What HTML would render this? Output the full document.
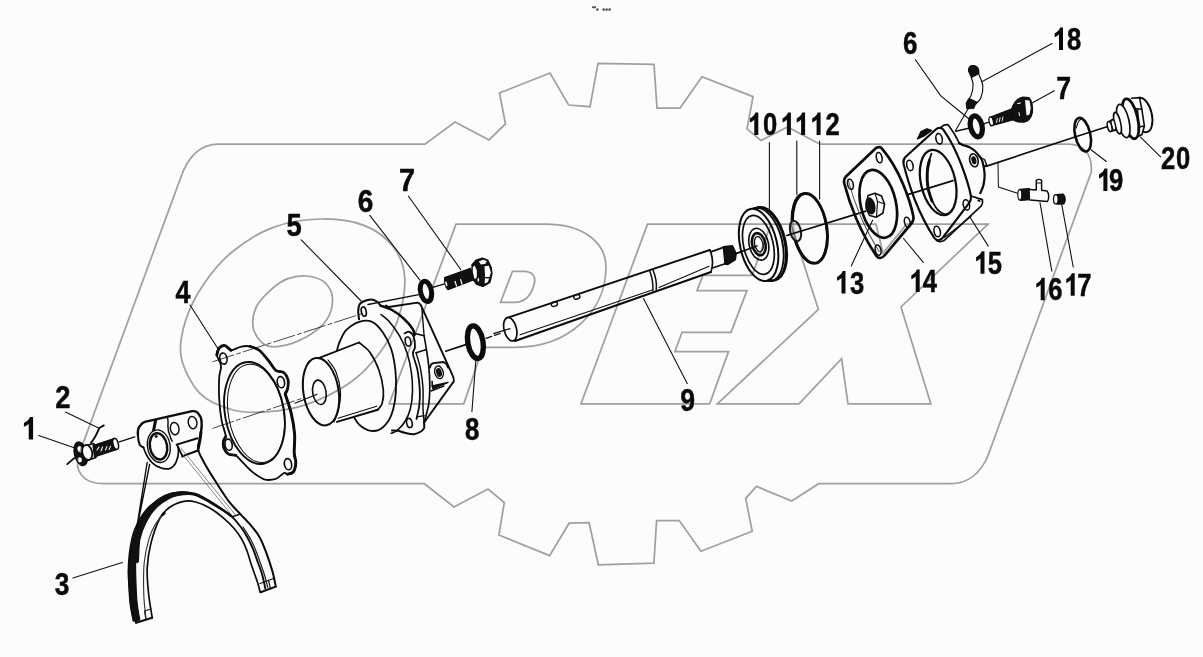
<!DOCTYPE html>
<html><head><meta charset="utf-8"><title>Exploded view</title>
<style>html,body{margin:0;padding:0;background:#fcfcfa;}svg{display:block;filter:blur(0.45px)}</style></head>
<body><svg width="1203" height="657" viewBox="0 0 1203 657">
<rect width="1203" height="657" fill="#fcfcfa"/>
<g id="parts" fill="none" stroke="#0c0c0c" stroke-width="1.7" stroke-linecap="round" stroke-linejoin="round">
<g id="p1">
<path d="M103.8,425.4 L99.3,428 C97.5,432 95.5,437.5 90.9,442.8" stroke-width="1.92"/>
<line x1="74.2" y1="458.1" x2="67.3" y2="464.1" stroke-width="1.92"/>
<path d="M84,446 L94,443.5 L96,457.5 L86,461 Z" fill="#fcfcfa" stroke-width="1.36"/>
<ellipse cx="80.8" cy="453.8" rx="6.3" ry="12" transform="rotate(-14 80.8 453.8)" fill="#111" stroke-width="1.36"/>
<ellipse cx="79.8" cy="449.3" rx="2.3" ry="3.2" transform="rotate(-14 79.8 449.3)" fill="#fcfcfa" stroke="none"/>
<ellipse cx="79.6" cy="459.8" rx="2.2" ry="2.6" transform="rotate(-14 79.6 459.8)" fill="#fcfcfa" stroke="none"/>
<ellipse cx="87.2" cy="452.4" rx="4.9" ry="7.6" transform="rotate(-14 87.2 452.4)" fill="#fcfcfa" stroke-width="1.81"/>
<path d="M93,445.6 L114.6,438.2 L116.2,449.6 L94.4,457 Z" fill="#111" stroke-width="1.13"/>
<path d="M97,450 l2,-3 m2,4 l1.5,-4 m3,3 l1.5,-3.5 m2,3 l1.5,-3" stroke="#fcfcfa" stroke-width="1.02"/>
<ellipse cx="115.6" cy="443.9" rx="2.6" ry="5.6" transform="rotate(-14 115.6 443.9)" fill="#fcfcfa" stroke-width="1.47"/>
<line x1="119.2" y1="441.8" x2="134.8" y2="436.8" stroke-width="1.24"/>
</g>
<g id="p3">
<path d="M176.6,444.6 L197.6,438.2" stroke-width="2.03"/>
<path d="M182.4,456.3 L198.6,450.2" stroke-width="2.03"/>
<path d="M178.3,449.2 L233,516.8 M180.8,448 L236,515.6" stroke="#777" stroke-width="0.90"/>
<path d="M177.8,446.4 L182.6,456.6" stroke-width="1.81"/>
<path d="M137.9,434.9 C137.6,430 138.5,427.5 139.8,426.2 C141,424 143,422.4 144.8,421.8 L192.2,411.2 C195,410.8 197.3,412 198.4,413.7 C200.5,416 201.5,419 201.5,421.2 C202,425 201.6,429 200.9,432.4" stroke-width="2.37"/>
<path d="M137.9,434.9 C138,439 138.8,442.5 139.8,444.9 C141,446.5 142,447 143.5,447.4" stroke-width="2.03"/>
<path d="M154.8,420.6 L152.9,430.6 M156.3,420.4 L154.4,429.6" stroke-width="1.69"/>
<path d="M167.2,417.6 C168.4,419 168.2,422 167.9,426.2 C168,430 168.6,432.5 169.7,434.9 C170.3,437.5 171,439.5 172.2,441.2" stroke-width="1.47"/>
<path d="M143.5,447.4 C145,452 147,456.5 149.8,459.9 C152.5,463.5 156,466 159.8,467.4 C163,468.8 166.5,469.3 169.7,468.6 C172.5,467.5 174.5,465.5 176,462.4 C177.6,459 178.6,455 178.5,451.1 C178.4,448.5 178,446.5 177.2,444.9" stroke-width="1.69"/>
<ellipse cx="158.8" cy="446.2" rx="11.3" ry="16.4" transform="rotate(-10 158.8 446.2)" stroke-width="1.36"/>
<ellipse cx="158.5" cy="446.4" rx="8.6" ry="13.3" transform="rotate(-10 158.5 446.4)" stroke-width="2.49"/>
<ellipse cx="156.2" cy="436.4" rx="1.1" ry="1.1" fill="#111" stroke-width="0.90"/>
<ellipse cx="174.7" cy="428.6" rx="4.3" ry="6.2" transform="rotate(-10 174.7 428.6)" stroke-width="1.47"/>
<ellipse cx="192.6" cy="422.6" rx="4.3" ry="6.2" transform="rotate(-10 192.6 422.6)" stroke-width="1.47"/>
<path d="M147.2,462.4 L135.6,535 M149.6,464.5 L137,528" stroke-width="1.36"/>
</g>
<g id="p3arc">
<path d="M136.0,622.8 C135.2,619.0 132.2,609.0 131.0,600.3 C129.8,591.6 128.3,580.8 128.5,570.4 C128.7,560.0 130.4,546.4 132.3,537.9 C134.2,529.4 136.9,524.7 139.8,519.5 C142.7,514.3 146.3,509.8 149.7,506.5 C153.1,503.2 156.4,502.1 160.0,500.0 C163.6,497.9 167.1,495.3 171.0,494.0 C174.9,492.7 179.4,492.0 183.7,492.1 C187.9,492.2 192.2,493.4 196.5,494.9 C200.8,496.4 205.0,498.9 209.3,501.3 C213.6,503.7 218.4,507.1 222.1,509.5 C225.8,511.9 228.1,513.0 231.2,515.9 C234.3,518.8 238.0,523.2 240.8,527.0 C243.6,530.8 245.9,534.6 248.0,538.5 C250.1,542.4 252.1,546.7 253.6,550.3 C255.1,553.9 255.6,556.0 257.0,560.0 C258.4,564.0 260.6,569.2 262.0,574.0 C263.4,578.8 264.8,586.1 265.3,588.5" stroke-width="1.92"/>
<path d="M133.2,621.1 C132.6,617.9 130.5,609.0 129.8,601.7 C129.1,594.4 128.7,585.4 128.8,577.3 C128.9,569.2 129.3,560.3 130.3,553.0 C131.3,545.7 133.0,539.6 135.0,533.5 C137.0,527.4 139.5,521.5 142.5,516.5 C145.5,511.5 149.2,506.8 153.0,503.3 C156.8,499.8 160.8,497.2 165.0,495.3 C169.2,493.4 173.2,492.3 178.3,492.0 C183.4,491.7 190.1,492.0 195.3,493.4 C200.5,494.8 204.8,498.0 209.3,500.6 C213.8,503.2 218.4,506.3 222.1,508.8 C225.8,511.3 229.7,514.3 231.2,515.4 L231.2,516.8 C229.7,515.7 225.8,512.8 222.1,510.4 C218.4,508.0 213.8,504.9 209.3,502.4 C204.8,499.9 199.6,496.7 195.3,495.4 C191.0,494.1 187.8,494.3 183.5,494.8 C179.2,495.3 174.4,496.0 169.8,498.2 C165.2,500.4 160.0,503.9 156.1,507.8 C152.2,511.7 149.2,516.1 146.5,521.4 C143.8,526.7 141.3,532.9 139.9,539.5 C138.5,546.1 139.0,557.4 138.3,561.2 C137.6,565.0 136.2,559.8 135.8,562.5 C135.4,565.2 135.6,570.8 135.8,577.3 C136.0,583.8 136.3,594.6 137.0,601.7 C137.7,608.8 139.3,616.9 139.8,619.9 Z" fill="#111" stroke-width="1.13"/>
<path d="M152.2,617.8 C151.6,613.6 149.3,601.1 148.5,592.8 C147.7,584.5 146.8,576.2 147.2,567.9 C147.6,559.6 148.9,551.1 151.0,542.9 C153.1,534.7 156.7,524.4 159.7,518.5 C162.7,512.6 165.1,510.6 169.1,507.7 C173.1,504.8 179.1,502.2 183.7,501.3 C188.3,500.4 192.2,501.1 196.5,502.2 C200.8,503.3 205.0,505.3 209.3,507.7 C213.6,510.1 218.1,513.4 222.1,516.8 C226.1,520.1 230.3,524.1 233.5,527.8 C236.7,531.4 239.3,535.0 241.5,538.7 C243.7,542.5 245.1,545.8 246.8,550.3 C248.5,554.8 250.0,560.7 251.8,566.0 C253.6,571.3 256.0,577.6 257.4,582.0 C258.8,586.4 259.7,590.5 260.2,592.2" stroke-width="1.69"/>
<path d="M200.9,432.4 C200.8,433.4 200.5,435.5 200.0,438.3 C199.5,441.1 197.4,445.2 198.0,449.2 C198.6,453.1 201.0,456.8 203.8,462.0 C206.6,467.2 210.5,473.6 214.8,480.3 C219.1,487.0 225.1,496.6 229.4,502.2 C233.7,507.8 236.8,510.2 240.4,514.1 C244.1,518.1 248.1,522.1 251.3,525.9 C254.5,529.7 257.1,532.6 259.5,536.9 C261.9,541.2 263.8,546.0 265.9,551.7 C268.0,557.4 270.6,565.1 272.3,570.9 C274.0,576.7 275.2,584.0 275.8,586.6" stroke-width="2.03"/>
<path d="M200.9,432.4 C200.8,433.4 200.6,435.7 200.2,438.3 C199.8,440.9 198.7,446.4 198.4,448.0" stroke-width="2.94"/>
<path d="M232.1,516.8 L240.4,514.1" stroke-width="1.47"/>
<path d="M136,622.8 L152.2,617.8" stroke-width="2.03"/>
<path d="M260.6,592.2 L275.8,586.6" stroke-width="2.03"/>
<path d="M144.5,611 L151.3,609 M145.8,619.2 L144.5,611" stroke-width="1.13"/>
<path d="M260,583.5 L273.5,578.5 M270.5,588.8 L268.5,580" stroke-width="1.13"/>
<path d="M146.0,618.0 C145.6,614.2 144.1,604.2 143.8,595.0 C143.5,585.8 143.3,572.1 144.2,562.7 C145.1,553.3 147.2,544.9 149.1,538.4 C151.0,531.9 153.3,527.9 155.5,524.0 C157.7,520.1 161.2,516.8 162.4,515.3" stroke-width="1.13" stroke="#333"/>
<path d="M162.4,515.3 l2.2,-2.2" stroke-width="2.26"/>
<path d="M243.0,527.0 C244.2,529.0 248.3,535.0 250.5,539.0 C252.7,543.0 254.4,547.2 256.0,551.0 C257.6,554.8 258.6,558.0 260.0,562.0 C261.4,566.0 263.2,570.8 264.5,575.0 C265.8,579.2 267.2,585.4 267.8,587.5" stroke-width="1.24" stroke="#222"/>
</g>
<g id="p4">
<path d="M212.8,361.7 L361.6,313.8" stroke-width="0.90" stroke="#333" stroke-dasharray="22 3 4 3"/>
<path d="M212.8,428.3 L309,396" stroke-width="0.90" stroke="#333" stroke-dasharray="22 3 4 3"/>
<path d="M216.8,355.0 C216.5,352.1 217.8,349.6 219.2,348.0 C220.6,346.4 223.1,345.2 225.0,345.6 C226.9,346.0 228.3,350.1 230.9,350.3 C233.5,350.5 237.2,347.5 240.4,346.8 C243.6,346.1 246.7,345.7 249.8,346.3 C252.9,346.9 256.1,347.9 259.2,350.3 C262.3,352.7 265.9,357.5 268.7,360.9 C271.5,364.2 273.2,368.4 275.8,370.4 C278.4,372.4 282.0,371.1 284.0,372.7 C286.0,374.3 287.4,377.1 288.0,379.8 C288.6,382.6 288.0,386.8 287.5,389.2 C287.0,391.6 284.6,390.1 285.2,394.0 C285.8,397.9 289.5,406.1 291.1,412.8 C292.7,419.5 294.1,427.3 294.6,434.0 C295.1,440.7 294.0,448.2 294.2,452.9 C294.4,457.6 295.9,459.2 295.8,462.4 C295.7,465.5 294.8,469.8 293.4,471.8 C292.0,473.8 289.1,474.0 287.5,474.2 C285.9,474.4 285.9,472.2 284.0,473.0 C282.1,473.8 279.1,477.8 275.8,478.9 C272.5,479.9 267.9,480.5 264.0,479.3 C260.1,478.1 255.8,474.6 252.2,471.8 C248.6,469.0 245.4,465.1 242.7,462.4 C239.9,459.6 238.0,456.7 235.7,455.3 C233.3,453.9 230.6,455.3 228.6,454.1 C226.6,452.9 224.8,450.4 223.9,448.2 C223.0,446.0 223.1,443.1 223.4,441.1 C223.7,439.1 226.1,439.9 225.8,436.4 C225.5,432.9 222.6,426.2 221.5,419.9 C220.4,413.6 219.6,405.8 219.2,398.7 C218.8,391.6 218.9,383.0 219.2,377.5 C219.5,372.0 221.4,369.4 221.0,365.7 C220.6,361.9 217.1,357.9 216.8,355.0Z" stroke-width="1.81"/>
<path d="M249.8,346.3 C251.4,347.0 256.1,347.9 259.2,350.3 C262.3,352.7 265.9,357.5 268.7,360.9 C271.5,364.2 273.2,368.4 275.8,370.4 C278.4,372.4 282.0,371.1 284.0,372.7 C286.0,374.3 287.4,377.1 288.0,379.8 C288.6,382.6 288.0,386.8 287.5,389.2 C287.0,391.6 285.6,393.2 285.2,394.0" stroke-width="2.71"/>
<path d="M285.2,394.0 C286.2,397.1 289.5,406.1 291.1,412.8 C292.7,419.5 294.1,427.3 294.6,434.0 C295.1,440.7 294.0,448.2 294.2,452.9 C294.4,457.6 295.9,459.2 295.8,462.4 C295.7,465.5 294.8,469.8 293.4,471.8 C292.0,473.8 288.5,473.8 287.5,474.2" stroke-width="2.94"/>
<path d="M216.8,355.0 C217.2,353.8 217.8,349.6 219.2,348.0 C220.6,346.4 223.1,345.2 225.0,345.6 C226.9,346.0 229.9,349.5 230.9,350.3" stroke-width="2.94"/>
<path d="M235.7,455.3 C234.5,455.1 230.6,455.3 228.6,454.1 C226.6,452.9 224.8,450.4 223.9,448.2 C223.0,446.0 223.1,443.1 223.4,441.1 C223.7,439.1 225.4,437.2 225.8,436.4" stroke-width="2.71"/>
<ellipse cx="254.5" cy="413" rx="29.5" ry="51.5" transform="rotate(-10 254.5 413)" stroke-width="1.92"/>
<ellipse cx="256" cy="413.3" rx="27.6" ry="49.6" transform="rotate(-10 256 413.3)" stroke-width="1.02"/>
<ellipse cx="223.4" cy="358.6" rx="3.6" ry="5.6" transform="rotate(-10 223.4 358.6)" stroke-width="1.69"/>
<ellipse cx="280.9" cy="382.2" rx="3.6" ry="5.6" transform="rotate(-10 280.9 382.2)" stroke-width="1.69"/>
<ellipse cx="228.6" cy="444.7" rx="3.6" ry="5.6" transform="rotate(-10 228.6 444.7)" stroke-width="1.69"/>
<ellipse cx="288" cy="464.2" rx="3.6" ry="5.6" transform="rotate(-10 288 464.2)" stroke-width="1.69"/>
</g>
<g id="p5">
<path d="M368,304.5 L418.8,294.7" stroke-width="1.36"/>
<path d="M386,305.5 L388.7,307 L417.3,302.6 C419.5,303 421,304.5 421.8,307.1 L452.7,375.7 C453.8,378 454,379.5 453.8,381.4 L424.1,422.5" stroke-width="1.92"/>
<path d="M415,333.4 L424.1,335.7 L426.4,349.4 L416.1,352.8" stroke-width="1.58"/>
<path d="M421.8,307.5 L424.1,335.7" stroke-width="1.36"/>
<path d="M426.4,349.4 C426.8,352.1 428.1,359.3 428.7,365.4 C429.3,371.5 429.8,379.4 429.8,385.9 C429.8,392.4 429.6,398.1 428.7,404.2 C427.8,410.3 424.9,419.4 424.1,422.5" stroke-width="1.69"/>
<path d="M429.8,367.7 C430.5,365 431.5,363.5 433.2,363.1 L443.5,362 C446,363 447.5,365 448.1,367.7" stroke-width="1.81"/>
<ellipse cx="439" cy="372.3" rx="4.2" ry="6.4" transform="rotate(-15 439 372.3)" stroke-width="1.36"/>
<ellipse cx="439" cy="372.5" rx="2.2" ry="3.9" transform="rotate(-15 439 372.5)" fill="#111" stroke-width="1.13"/>
<path d="M432.1,385.9 L448.1,382.5 L433,389 Z" fill="#111" stroke-width="1.36"/>
<path d="M431,391 L444,386" stroke-width="1.36"/>
<path d="M432.1,381.4 L432.3,386" stroke-width="1.58"/>
<path d="M404.5,333.5 C405.3,333.2 407.8,331.2 409.3,331.8 C410.9,332.4 412.9,334.4 413.8,337.0 C414.8,339.6 415.1,344.3 415.0,347.1 C414.9,349.9 412.6,350.1 413.0,354.0 C413.4,357.9 416.4,364.2 417.5,370.2 C418.6,376.2 419.5,384.0 419.8,390.0 C420.1,396.0 419.8,401.2 419.2,406.0 C418.6,410.8 416.9,416.8 416.5,419.0" stroke-width="1.81"/>
<path d="M416.1,352.8 C416.9,355.6 419.6,364.0 420.7,369.9 C421.8,375.8 422.6,381.7 423.0,388.2 C423.4,394.7 422.8,403.1 423.0,408.8 C423.2,414.5 423.9,420.2 424.1,422.5" stroke-width="1.47"/>
<path d="M380.5,305.6 C382.4,306.3 388.1,307.9 392.0,310.0 C395.9,312.1 400.2,315.3 403.6,318.5 C407.1,321.7 410.9,326.2 412.7,329.0 C414.5,331.8 414.2,334.0 414.5,335.0" stroke-width="2.49"/>
<path d="M359.0,319.3 C358.9,317.9 358.1,313.5 358.2,311.0 C358.3,308.5 358.6,306.1 359.5,304.5 C360.4,302.9 361.4,302.4 363.4,301.5 C365.3,300.6 368.9,299.4 371.2,299.4 C373.5,299.4 375.4,300.5 377.0,301.5 C378.6,302.5 379.9,304.9 380.5,305.6" stroke-width="2.03"/>
<ellipse cx="363.8" cy="311.6" rx="2.4" ry="4.7" transform="rotate(-12 363.8 311.6)" stroke-width="1.69"/>
<ellipse cx="408" cy="341.6" rx="2.7" ry="4.6" transform="rotate(-12 408 341.6)" stroke-width="1.58"/>
<path d="M392.0,430.5 C393.0,430.6 395.9,430.4 398.0,430.8 C400.1,431.2 402.1,432.2 404.7,432.8 C407.3,433.4 411.1,434.4 413.8,434.2 C416.5,434.0 419.3,432.5 421.0,431.5 C422.7,430.5 423.6,429.5 424.1,428.0 C424.6,426.5 424.1,423.4 424.1,422.5" stroke-width="2.03"/>
<path d="M417.3,416.8 L424.1,415.6" stroke-width="1.36"/>
<ellipse cx="409.4" cy="423" rx="2.7" ry="4.7" transform="rotate(-12 409.4 423)" stroke-width="1.58"/>
<path d="M381.0,314.5 C382.3,315.6 385.9,317.7 389.0,321.3 C392.1,324.9 396.7,330.9 399.7,336.2 C402.7,341.5 405.2,347.2 407.2,353.3 C409.1,359.4 410.5,366.1 411.4,372.5 C412.3,378.9 412.7,385.7 412.5,391.7 C412.3,397.7 411.6,403.7 410.4,408.7 C409.1,413.7 407.1,417.9 405.0,421.5 C402.9,425.1 399.9,428.1 397.6,430.1 C395.3,432.1 392.3,432.8 391.2,433.3" stroke-width="1.58"/>
<path d="M337.0,350.2 C337.5,348.7 338.4,344.4 340.0,341.0 C341.6,337.6 343.2,333.1 346.4,329.9 C349.6,326.7 354.9,323.1 359.2,321.8 C363.5,320.5 368.1,320.1 372.0,321.8 C375.9,323.5 379.4,327.5 382.6,332.0 C385.8,336.5 389.1,342.6 391.2,349.0 C393.3,355.4 394.6,363.3 395.4,370.4 C396.2,377.5 396.2,385.3 395.9,391.7 C395.5,398.1 394.6,403.7 393.3,408.7 C392.0,413.7 390.5,417.9 388.0,421.5 C385.5,425.1 381.8,428.7 378.4,430.1 C375.0,431.5 370.9,431.0 367.7,430.1 C364.5,429.2 361.5,426.8 359.2,424.7 C356.9,422.6 354.9,418.5 354.0,417.3" stroke-width="1.81"/>
<path d="M319.3,357.9 L359,342.5 C366,346 373,357 378.9,370 C383,380 384,392 382.2,403.2 C381,406.5 379.5,408.5 377.8,409.8 L337,421.9 Z" fill="#fcfcfa" stroke="none"/>
<path d="M319.3,357.9 L359,342.5" stroke-width="1.81"/>
<path d="M337,421.9 L377.8,409.8" stroke-width="2.03"/>
<path d="M338,418.3 L376.7,406.3" stroke-width="1.02"/>
<path d="M359.0,342.5 C360.8,344.1 366.7,347.8 370.0,352.4 C373.3,357.0 376.7,363.8 378.9,370.0 C381.1,376.2 382.8,384.4 383.3,389.9 C383.9,395.4 383.1,399.9 382.2,403.2 C381.3,406.5 378.5,408.7 377.8,409.8" stroke-width="1.69"/>
<ellipse cx="321" cy="391.7" rx="17.6" ry="34" transform="rotate(-9 321 391.7)" fill="#fcfcfa" stroke-width="2.03"/>
<path d="M328.0,360.0 C329.3,362.0 333.9,366.7 336.0,372.0 C338.1,377.3 340.1,385.7 340.5,392.0 C340.9,398.3 339.6,405.0 338.5,410.0 C337.4,415.0 334.8,420.0 334.0,422.0" stroke-width="1.13"/>
<ellipse cx="319.4" cy="392.3" rx="6.7" ry="12.3" transform="rotate(-9 319.4 392.3)" stroke-width="1.58"/>
<path d="M295,403.2 L317,394.3" stroke-width="1.02"/>
</g>
<g id="p678">
<ellipse cx="426" cy="291.4" rx="5.5" ry="10.3" transform="rotate(-12 426 291.4)" stroke-width="4.97"/>
<path d="M433.5,287.2 L444.5,283.9" stroke-width="1.36"/>
<path d="M444.6,277.6 L470.6,268.2 L474.7,279.5 L448,289.7 C445.5,288 444,282 444.6,277.6 Z" fill="#111" stroke-width="1.13"/>
<path d="M455,281.5 l1.6,4.6 M460.6,279.6 l1.4,4.4" stroke="#fcfcfa" stroke-width="1.24"/>
<ellipse cx="446.3" cy="283.7" rx="0.9" ry="2.6" transform="rotate(-14 446.3 283.7)" fill="#fcfcfa" stroke="none"/>
<path d="M472,265.1 L476.1,260.3 L482.3,258.2 L487.7,260.3 L491.2,267.8 L491.8,274 L489.8,282.2 L482.9,286.3 L476.8,284.2 L473.5,279.8 Z" fill="#111" stroke-width="1.58"/>
<polygon points="472.7,267.3 474.7,265.6 476.8,270.5 476.8,277.2 474.6,279.2 472.9,272.6" fill="#fcfcfa" stroke="none"/>
<polygon points="478.8,261.4 482.9,259.8 486.8,261.1 485.5,263.8 480.9,264.5" fill="#fcfcfa" stroke="none"/>
<polygon points="484.5,266.3 488.9,265.7 490.9,272.6 489.5,277.1 485.1,276.9" fill="#fcfcfa" stroke="none"/>
<polygon points="485.1,278.3 489.2,278.6 487.5,282.6 484.5,283.6" fill="#fcfcfa" stroke="none"/>
<polygon points="477.3,278.9 478.8,277.8 479.3,280.1 478,282.4" fill="#fcfcfa" stroke="none"/>
<ellipse cx="475.4" cy="342.2" rx="7.6" ry="16.5" transform="rotate(-10 475.4 342.2)" stroke-width="5.42"/>
<path d="M445.7,351.3 L466.5,344.4" stroke-width="1.69"/>
<path d="M486,338.4 L500.4,333.4" stroke-width="1.24" stroke-dasharray="6 3"/>
</g>
<g id="p9">
<path d="M493.7,333.6 L510,328.6" stroke-width="1.13"/>
<path d="M508.7,317.3 L709.8,250" stroke-width="1.92"/>
<path d="M515,341 L711,272" stroke-width="2.15"/>
<path d="M520,334.8 L652.2,289.9 M659,287.5 L709,266.2" stroke-width="1.02"/>
<ellipse cx="510.3" cy="329.2" rx="6.2" ry="12" transform="rotate(-14 510.3 329.2)" stroke-width="1.69"/>
<path d="M649.7,271 C652,277 653.5,284 652.8,291 M653,270 C655.5,276 657,283 656.2,290" stroke-width="1.47"/>
<ellipse cx="554.4" cy="304.1" rx="3.2" ry="2.2" transform="rotate(-18 554.4 304.1)" stroke-width="1.36"/>
<ellipse cx="576.8" cy="296.9" rx="3.2" ry="2.2" transform="rotate(-18 576.8 296.9)" stroke-width="1.36"/>
<path d="M709.8,250 C712.5,256 713.5,264 711,272" stroke-width="1.69"/>
<path d="M711.5,251.6 L723.5,247.4 M713.2,267.8 L725,263.8" stroke-width="1.69"/>
<path d="M723.3,246.8 L732.5,245.8 L736.2,253.6 L735.4,259.6 L727.5,264.6 L725,264 Z" fill="#111" stroke-width="1.36"/>
<path d="M735.8,253.7 L759.5,245" stroke-width="1.47"/>
</g>
<g id="p10">
<ellipse cx="766.6" cy="243.8" rx="19" ry="37.4" transform="rotate(-13 766.6 243.8)" stroke-width="2.26"/>
<ellipse cx="765.3" cy="244.1" rx="19.3" ry="37.5" transform="rotate(-13 765.3 244.1)" stroke-width="1.92"/>
<ellipse cx="763.2" cy="244.4" rx="19.2" ry="37.4" transform="rotate(-13 763.2 244.4)" stroke-width="1.92"/>
<ellipse cx="758.6" cy="244.9" rx="18.4" ry="36.8" transform="rotate(-13 758.6 244.9)" fill="#fcfcfa" stroke-width="2.03"/>
<ellipse cx="758.4" cy="244.9" rx="14.8" ry="30" transform="rotate(-13 758.4 244.9)" stroke-width="1.69"/>
<ellipse cx="758.8" cy="244.2" rx="9.6" ry="16.2" transform="rotate(-13 758.8 244.2)" stroke-width="1.58"/>
<ellipse cx="758.8" cy="244.2" rx="6.6" ry="11.2" transform="rotate(-13 758.8 244.2)" stroke-width="2.60"/>
<ellipse cx="758.8" cy="244.2" rx="4.1" ry="7.8" transform="rotate(-13 758.8 244.2)" stroke-width="1.36"/>
<path d="M736,253.5 L757,246" stroke-width="1.47"/>
</g>
<g id="p1112">
<ellipse cx="808.9" cy="228" rx="17" ry="35.6" transform="rotate(-9 808.9 228)" stroke-width="1.13"/>
<ellipse cx="810" cy="228.4" rx="16.8" ry="35.2" transform="rotate(-9 810 228.4)" stroke-width="2.94"/>
<path d="M786.8,235.5 L865.9,211.1" stroke-width="1.69"/>
<ellipse cx="795.5" cy="231" rx="5.3" ry="10.4" transform="rotate(-13 795.5 231)" stroke-width="2.03" stroke="#1a1a1a" fill="#e6e6e4" fill-opacity="0.8"/>
<path d="M789,234.8 L802,230.8" stroke-width="1.47"/>
</g>
<g id="p1314">
<path d="M875.5,148.5 C877.5,146.6 880.5,146.6 882.2,148.8 C890,158 898,172 903,184 C908,196 911.5,207 913.3,216 C913.8,219 913.5,221 911.8,223 L884.5,255.5 C882,258.5 878.5,259 876.5,256 C869,245 862,232 856,218 C851,206 847,194 844.3,183.5 C843.6,180.5 844,178.5 846,176.5 Z" stroke-width="2.71"/>
<path d="M848,179 C851,191 855,203 860,215 C865.5,228 872,240 879.2,251.5" stroke-width="1.02" stroke="#555"/>
<ellipse cx="879.2" cy="157.6" rx="2.8" ry="5.2" transform="rotate(-13 879.2 157.6)" stroke-width="1.58"/>
<ellipse cx="850.4" cy="184.3" rx="2.8" ry="5.2" transform="rotate(-13 850.4 184.3)" stroke-width="1.58"/>
<ellipse cx="878.1" cy="250.1" rx="2.8" ry="5.2" transform="rotate(-13 878.1 250.1)" stroke-width="1.58"/>
<ellipse cx="907.3" cy="222.3" rx="2.8" ry="5.2" transform="rotate(-13 907.3 222.3)" stroke-width="1.58"/>
<ellipse cx="878.3" cy="203.8" rx="17.6" ry="34.6" transform="rotate(-13 878.3 203.8)" stroke-width="2.71"/>
<path d="M868,195.5 L875,193.2 L881.5,196 L884.5,204 L883,213 L876.5,217.2 L869.5,215.5 L866,208 Z" fill="#fcfcfa" stroke-width="1.58"/>
<path d="M875,193.2 L877.5,201.5 L876.5,217.2 M877.5,201.5 L884.5,204" stroke-width="1.13"/>
<ellipse cx="870.4" cy="205.9" rx="4.2" ry="8" transform="rotate(-13 870.4 205.9)" fill="#111" stroke-width="1.36"/>
</g>
<g id="p15">
<path d="M959.0,143.0 C959.7,143.4 961.4,144.5 963.2,145.2 C965.0,145.9 967.6,146.3 969.6,147.3 C971.6,148.3 973.4,149.6 975.0,151.0 C976.6,152.4 978.0,154.1 979.2,155.8 C980.4,157.5 981.5,158.2 982.4,161.2 C983.3,164.2 984.4,170.0 984.6,174.0 C984.8,178.0 984.2,181.8 983.5,185.0 C982.8,188.2 980.8,191.8 980.3,193.2" stroke-width="2.26"/>
<ellipse cx="973.9" cy="160.3" rx="4.2" ry="6.6" transform="rotate(-13 973.9 160.3)" stroke-width="1.58"/>
<ellipse cx="973.9" cy="160.3" rx="1.9" ry="3.6" transform="rotate(-13 973.9 160.3)" fill="#111" stroke-width="1.13"/>
<path d="M980.5,157.5 L984.5,159.5 L986.5,164.5 L983.5,167.5" stroke-width="1.36"/>
<path d="M917.5,139 L921,131.5 L927,128.8 L931.5,130.5 L924,136 Z" fill="#111" stroke-width="1.36"/>
<path d="M940.8,127.5 C943,125 946,124.2 948.3,124.9 C953,131 957,138 959.5,143.5" stroke-width="1.69"/>
<path d="M970.9,196 L982.4,199.6 C983,202 982.6,204 981.3,205.9 L944,240.6 C941.5,242 939,242 936.6,240.5" stroke-width="1.69"/>
<path d="M971.2,216.3 L944.5,237.5" stroke-width="1.02"/>
<path d="M978.2,200.4 l1.6,0.6" stroke-width="1.81"/>
<path d="M936,129.2 C938,127.3 941.5,127.3 943.3,129.6 C950,139 956.5,152 961.5,165 C966,177 969.5,188 970.9,196 C971.3,198.5 971,200.5 969.6,202.3 L942.5,238 C940,240.8 936.5,241 934.5,238.2 C927,227 920,213 914.5,199 C910,187 906,174 903.6,164 C903,161 903.5,159 905.4,157 Z" stroke-width="2.15"/>
<ellipse cx="939.1" cy="138.8" rx="3.1" ry="5.3" transform="rotate(-13 939.1 138.8)" stroke-width="1.58"/>
<ellipse cx="909.9" cy="165.4" rx="3.1" ry="5.3" transform="rotate(-13 909.9 165.4)" stroke-width="1.58"/>
<ellipse cx="937.2" cy="231.5" rx="3.1" ry="5.3" transform="rotate(-13 937.2 231.5)" stroke-width="1.58"/>
<ellipse cx="966.4" cy="204.9" rx="3.1" ry="5.3" transform="rotate(-13 966.4 204.9)" stroke-width="1.58"/>
<ellipse cx="938.2" cy="182.5" rx="17.2" ry="33.2" transform="rotate(-13 938.2 182.5)" stroke-width="2.26"/>
<path d="M931.5,153.5 C930.9,155.6 928.4,161.5 927.6,166.0 C926.9,170.5 926.6,175.6 927.0,180.4 C927.4,185.2 928.6,190.6 930.0,195.0 C931.4,199.4 933.7,204.1 935.5,207.0 C937.3,209.9 939.1,211.2 941.0,212.5 C942.9,213.8 945.8,214.4 946.8,214.8" stroke-width="1.69"/>
<path d="M929.5,160.0 C929.1,162.0 927.5,167.3 927.3,172.0 C927.0,176.7 927.2,183.2 928.0,188.0 C928.8,192.8 931.3,198.8 932.0,201.0" stroke-width="2.94"/>
<path d="M907.6,194.6 L953,180.6" stroke-width="1.69"/>
</g>
<g id="p_right">
<ellipse cx="976.3" cy="126.4" rx="5.8" ry="10.6" transform="rotate(-13 976.3 126.4)" stroke-width="5.20"/>
<path d="M955.8,131.3 L969.6,128.1" stroke-width="1.58"/>
<path d="M983.7,123.8 L989.6,121.9" stroke-width="1.24"/>
<path d="M985.9,166.4 L1075.7,136.7 L1108.5,126.3" stroke-width="1.69"/>
</g>
<g id="p18">
<path d="M971.2,77.0 C971.5,78.3 973.1,81.7 973.1,84.7 C973.1,87.7 972.1,92.5 971.2,95.1 C970.3,97.7 968.5,99.4 967.9,100.3" stroke-width="1.13"/>
<path d="M978.9,74.4 C979.5,76.3 982.5,82.1 982.8,86.0 C983.1,89.9 982.1,94.7 980.9,97.7 C979.7,100.7 976.6,103.0 975.7,104.1" stroke-width="1.13"/>
<path d="M968.5,71 C968,67 970.5,65 974,65.6 C977.5,66.2 979.3,69 978.9,73.5 L971.5,77.5 Z" fill="#111" stroke-width="1.13"/>
<path d="M969.2,98.5 L976.5,102 L973.5,108.5 L967,108.8 L966.2,103 Z" fill="#111" stroke-width="1.13"/>
</g>
<g id="p7r">
<path d="M989.9,117.3 L1013.2,108.2 L1014.6,119.5 L990.8,126 Z" fill="#111" stroke-width="1.13"/>
<path d="M996.5,122.5 l0.8,-4 M999.3,121.7 l0.8,-4 M1002.1,120.9 l0.8,-4" stroke="#fcfcfa" stroke-width="0.90"/>
<ellipse cx="991.2" cy="121.3" rx="2.1" ry="4.4" transform="rotate(-13 991.2 121.3)" fill="#fcfcfa" stroke-width="1.24"/>
<path d="M1012,108 C1014,102 1018,98 1023,97 L1029,97.5 C1032,101 1033,107 1032.3,113 C1031,118 1028,121.5 1024,122.2 L1018,122 C1015,121 1013.5,120 1012.8,119.5 Z" fill="#111" stroke-width="1.13"/>
<path d="M1025,100 L1029.5,100.5 L1030.8,108 L1029.5,114.5 L1026.5,115.5 Z" fill="#fcfcfa" stroke="none"/>
<path d="M1017.5,103.5 l3,-0.6 M1019,112.5 l0.5,3" stroke="#fcfcfa" stroke-width="1.02"/>
</g>
<g id="p19">
<ellipse cx="1082.7" cy="134.7" rx="7.6" ry="17.2" transform="rotate(-13 1082.7 134.7)" stroke-width="2.60"/>
<path d="M1076.3,128.0 C1076.7,126.9 1077.5,123.0 1078.5,121.5 C1079.5,120.0 1080.8,119.3 1082.0,119.3 C1083.2,119.3 1084.9,121.1 1085.5,121.5" stroke-width="1.02"/>
</g>
<g id="p20">
<ellipse cx="1143" cy="115" rx="8.8" ry="17.6" transform="rotate(-13 1143 115)" fill="#fcfcfa" stroke-width="1.92"/>
<path d="M1131.5,98.2 L1139.5,97.6 L1141.8,109.2 L1144.4,126 L1142,134.5 L1133,139" fill="#fcfcfa" stroke-width="1.58"/>
<path d="M1134,108.5 L1141.8,109.2 M1136,127.5 L1144.4,126" stroke-width="1.36"/>
<path d="M1137.7,110 L1138.6,132" stroke-width="1.36"/>
<ellipse cx="1130.5" cy="118.8" rx="7.2" ry="20.4" transform="rotate(-13 1130.5 118.8)" fill="#fcfcfa" stroke-width="2.82"/>
<ellipse cx="1123.2" cy="121" rx="5.8" ry="17" transform="rotate(-13 1123.2 121)" fill="#fcfcfa" stroke-width="1.69"/>
<ellipse cx="1117.5" cy="123.1" rx="3.1" ry="11" transform="rotate(-13 1117.5 123.1)" fill="#fcfcfa" stroke-width="1.58"/>
<ellipse cx="1113.4" cy="125" rx="2" ry="5.6" transform="rotate(-13 1113.4 125)" fill="#fcfcfa" stroke-width="1.47"/>
<path d="M1108.6,121.6 L1112.4,119.8 M1110.8,131.6 L1114.6,130.3" stroke-width="1.47"/>
<ellipse cx="1109.6" cy="126.5" rx="2.1" ry="5.2" transform="rotate(-13 1109.6 126.5)" fill="#fcfcfa" stroke-width="1.47"/>
</g>
<g id="p1617">
<path d="M998,162.5 L998.4,187 L1017.5,193.2" stroke-width="1.02"/>
<path d="M1019.5,189.2 L1029.5,188.6 L1030.2,199.8 L1020.2,200.4 Z" fill="#111" stroke-width="1.13"/>
<ellipse cx="1019.8" cy="194.8" rx="2" ry="5.2" fill="#fcfcfa" stroke-width="1.13"/>
<path d="M1029.8,189.5 L1036.3,190 L1036.3,180.5 C1037.5,179 1040.5,179 1041.6,180.5 L1041.6,190.3 L1047,191 C1049,193 1049.4,198.5 1047.5,201.4 L1030.2,200" fill="#fcfcfa" stroke-width="1.47"/>
<path d="M1036.3,183 L1041.6,183" stroke-width="1.02"/>
<path d="M1056.5,194.6 L1063,194 C1065.5,196 1066,201.5 1063.8,204 L1057,204.3 Z" fill="#111" stroke-width="1.13"/>
<ellipse cx="1055.8" cy="199.3" rx="2.3" ry="4.6" fill="#fcfcfa" stroke-width="1.24"/>
</g>
</g>
<g id="wm" style="mix-blend-mode:multiply" fill="none" stroke="#a2a2a2" stroke-width="1.75" stroke-linejoin="miter">
<path d="M218.5,144.2 L425,144.2 L455,122 L489,140 L505.5,124 L499.5,93 L550,73 L568.6,105 L590,106.7 L598,63.4 L654,64.4 L657,108 L680,108 L702,76.7 L753,96.6 L747,129 L761,140.5 L787.6,127 L820,144.2 L1068,144.2 C1083,144.2 1092.5,153 1091.3,172 L988.6,454 C981,474 967,483.7 950,483.7 L818.7,483.7 L791.7,501 L756.5,486.4 L745.7,498.3 L752.2,531.3 L700.9,551.3 L679.3,520.5 L656.6,520.5 L653.9,563.2 L598.3,564.8 L589.1,522.6 L569.1,523.2 L549.6,555.6 L498.9,535 L504.3,502.6 L488,489.1 L454,507 L424.3,483.7 L104,483.7 C84,483.7 73.8,472 78.8,455 L180.2,179 C187.2,158 199.5,144.2 218.5,144.2 Z" />
<path d="M320.8,219.0 C336.0,218.7 352.4,220.8 364.6,225.6 C376.8,230.3 387.1,238.7 393.8,247.5 C400.5,256.3 404.2,266.4 404.8,278.6 C405.4,290.8 401.8,308.1 397.5,320.6 C393.2,333.1 387.1,343.1 379.2,353.5 C371.3,363.9 362.2,374.2 350.0,382.7 C337.8,391.2 320.2,399.7 306.2,404.6 C292.2,409.5 278.2,411.0 266.0,411.9 C253.8,412.8 244.0,413.0 233.0,410.0 C222.0,407.0 208.8,402.5 200.2,393.7 C191.6,384.9 183.6,369.3 181.2,357.1 C178.8,344.9 181.8,332.8 185.6,320.6 C189.4,308.4 195.9,295.6 203.8,284.0 C211.7,272.4 221.4,260.6 233.0,251.2 C244.6,241.8 258.7,232.8 273.3,227.4 C287.9,222.0 305.6,219.3 320.8,219.0Z" />
<path d="M306.2,276.0 C312.3,276.6 320.0,278.4 324.4,282.2 C328.8,286.0 332.2,292.3 332.5,298.7 C332.8,305.1 330.6,314.2 326.2,320.6 C321.8,327.0 313.8,332.7 306.2,337.0 C298.6,341.3 287.6,345.0 280.6,346.2 C273.6,347.4 268.7,347.4 264.1,344.3 C259.5,341.2 254.4,334.3 253.2,327.9 C252.0,321.5 253.5,312.7 256.8,306.0 C260.2,299.3 268.1,292.3 273.3,287.7 C278.5,283.1 282.4,280.6 287.9,278.6 C293.4,276.7 300.1,275.4 306.2,276.0Z" />
<path d="M456,224.2 L545,224.2 C580,224.2 606,240 606,267.4 C606,310 570,347.3 515,347.3 L483,347.3 L463.8,403.8 L389.2,403.8 Z" />
<path d="M512.5,271.3 L524,271.3 C532,271.3 536,276 534.4,283 C532,294 526,302.4 514,302.4 L500.5,302.4 Z" />
<polygon points="647.5,224.2 771.0,224.2 752.0,275.3 703.0,275.3 697.0,290.6 747.0,290.6 731.0,332.3 682.0,332.3 675.0,351.5 728.5,351.5 709.7,403.8 581.0,403.8"/>
<line x1="771" y1="224.2" x2="791" y2="224.2" />
<polygon points="791.0,224.2 876.0,224.2 883.0,253.0 906.6,224.2 988.0,224.2 901.0,306.9 930.8,403.8 848.0,403.8 841.6,358.7 799.0,403.8 717.3,403.8 818.4,309.5"/>
</g>
<g fill="#555"><rect x="592" y="6.2" width="4" height="2" rx="0.8"/><circle cx="597.4" cy="9.6" r="1.3"/><circle cx="603.6" cy="9.6" r="1.3"/><circle cx="606.6" cy="9.6" r="1.3"/><circle cx="609.6" cy="9.6" r="1.3"/></g>
<g id="leaders" stroke="#111" stroke-width="1.1" fill="none" stroke-linecap="round">
<line x1="38.7" y1="435.4" x2="74.9" y2="447.9" />
<line x1="65.4" y1="412" x2="98.6" y2="428" />
<line x1="72.9" y1="577.9" x2="122.3" y2="562.4" />
<line x1="190" y1="305" x2="218" y2="348.8" />
<line x1="301.2" y1="239.8" x2="361.1" y2="301" />
<line x1="369.8" y1="215.4" x2="419.7" y2="279.8" />
<line x1="408.5" y1="196.2" x2="460.9" y2="269.8" />
<line x1="471.9" y1="411.6" x2="475.9" y2="359.4" />
<line x1="643.5" y1="298.6" x2="687.2" y2="383.5" />
<line x1="769.4" y1="142.6" x2="769.4" y2="211.1" />
<line x1="796.8" y1="141.1" x2="796.8" y2="194.4" />
<line x1="819.6" y1="141.1" x2="819.6" y2="198.9" />
<line x1="851.3" y1="265.9" x2="872.6" y2="220.2" />
<line x1="923.3" y1="262.4" x2="903.5" y2="238.5" />
<line x1="988.3" y1="246.1" x2="970" y2="217.2" />
<line x1="1051.8" y1="271.1" x2="1040" y2="202.6" />
<line x1="1073.2" y1="267" x2="1061.4" y2="202.6" />
<line x1="1052" y1="43.6" x2="981.8" y2="81.8" />
<line x1="1106.3" y1="161.5" x2="1091" y2="149.7" />
<line x1="1160.6" y1="156.8" x2="1140.5" y2="137.2" />
<line x1="1054.4" y1="90.8" x2="1032" y2="103" />
<line x1="968.3" y1="108.4" x2="955.4" y2="130.8" />
<path d="M915.4,59.7 L940.8,95.9 L968.8,118.7" />
</g>
<g id="labels" opacity="0.999" font-family="Liberation Sans, sans-serif" font-weight="bold" font-size="32" fill="#0a0a0a" stroke="#0a0a0a" stroke-width="0.5">
<path transform="translate(23.90,417.00) scale(1.022,1.071)" d="M9,0 L9,21 L4.7,21 L4.7,6.4 C3.5,7.6 1.8,8.6 0,9.2 L0,5.5 C2.7,4.4 5,2.5 5.9,0 Z" stroke="none"/>
<text transform="translate(55.24,408.0) scale(0.853,1)">2</text>
<text transform="translate(54.84,594.7) scale(0.821,1)">3</text>
<text transform="translate(175.50,303.0) scale(0.835,1)">4</text>
<text transform="translate(286.38,236.0) scale(0.856,1)">5</text>
<text transform="translate(357.72,211.9) scale(0.876,1)">6</text>
<text transform="translate(399.10,191.2) scale(0.901,1)">7</text>
<text transform="translate(465.12,439.9) scale(0.808,1)">8</text>
<text transform="translate(680.17,411.1) scale(0.831,1)">9</text>
<path transform="translate(749.90,112.60) scale(0.933,1.071)" d="M9,0 L9,21 L4.7,21 L4.7,6.4 C3.5,7.6 1.8,8.6 0,9.2 L0,5.5 C2.7,4.4 5,2.5 5.9,0 Z" stroke="none"/>
<text transform="translate(763.09,135.1) scale(0.800,1)">0</text>
<path transform="translate(782.50,112.60) scale(0.933,1.071)" d="M9,0 L9,21 L4.7,21 L4.7,6.4 C3.5,7.6 1.8,8.6 0,9.2 L0,5.5 C2.7,4.4 5,2.5 5.9,0 Z" stroke="none"/>
<path transform="translate(796.70,112.60) scale(0.933,1.071)" d="M9,0 L9,21 L4.7,21 L4.7,6.4 C3.5,7.6 1.8,8.6 0,9.2 L0,5.5 C2.7,4.4 5,2.5 5.9,0 Z" stroke="none"/>
<path transform="translate(812.20,112.60) scale(0.933,1.071)" d="M9,0 L9,21 L4.7,21 L4.7,6.4 C3.5,7.6 1.8,8.6 0,9.2 L0,5.5 C2.7,4.4 5,2.5 5.9,0 Z" stroke="none"/>
<text transform="translate(825.52,135.1) scale(0.800,1)">2</text>
<path transform="translate(837.10,271.00) scale(0.933,1.071)" d="M9,0 L9,21 L4.7,21 L4.7,6.4 C3.5,7.6 1.8,8.6 0,9.2 L0,5.5 C2.7,4.4 5,2.5 5.9,0 Z" stroke="none"/>
<text transform="translate(849.89,293.5) scale(0.800,1)">3</text>
<path transform="translate(911.30,269.50) scale(0.933,1.071)" d="M9,0 L9,21 L4.7,21 L4.7,6.4 C3.5,7.6 1.8,8.6 0,9.2 L0,5.5 C2.7,4.4 5,2.5 5.9,0 Z" stroke="none"/>
<text transform="translate(922.82,292.0) scale(0.800,1)">4</text>
<path transform="translate(976.10,251.30) scale(0.933,1.071)" d="M9,0 L9,21 L4.7,21 L4.7,6.4 C3.5,7.6 1.8,8.6 0,9.2 L0,5.5 C2.7,4.4 5,2.5 5.9,0 Z" stroke="none"/>
<text transform="translate(987.83,273.8) scale(0.800,1)">5</text>
<path transform="translate(1036.30,277.70) scale(0.933,1.071)" d="M9,0 L9,21 L4.7,21 L4.7,6.4 C3.5,7.6 1.8,8.6 0,9.2 L0,5.5 C2.7,4.4 5,2.5 5.9,0 Z" stroke="none"/>
<text transform="translate(1048.29,300.2) scale(0.800,1)">6</text>
<path transform="translate(1066.30,273.20) scale(0.933,1.071)" d="M9,0 L9,21 L4.7,21 L4.7,6.4 C3.5,7.6 1.8,8.6 0,9.2 L0,5.5 C2.7,4.4 5,2.5 5.9,0 Z" stroke="none"/>
<text transform="translate(1077.34,295.7) scale(0.800,1)">7</text>
<path transform="translate(1054.60,27.50) scale(0.933,1.071)" d="M9,0 L9,21 L4.7,21 L4.7,6.4 C3.5,7.6 1.8,8.6 0,9.2 L0,5.5 C2.7,4.4 5,2.5 5.9,0 Z" stroke="none"/>
<text transform="translate(1066.96,50.0) scale(0.800,1)">8</text>
<path transform="translate(1099.00,168.60) scale(0.933,1.071)" d="M9,0 L9,21 L4.7,21 L4.7,6.4 C3.5,7.6 1.8,8.6 0,9.2 L0,5.5 C2.7,4.4 5,2.5 5.9,0 Z" stroke="none"/>
<text transform="translate(1109.09,191.1) scale(0.800,1)">9</text>
<text transform="translate(1161.00,168.5) scale(0.800,1)">2</text>
<text transform="translate(1175.99,168.5) scale(0.800,1)">0</text>
<text transform="translate(903.09,53.9) scale(0.812,1)">6</text>
<text transform="translate(1056.20,98.8) scale(0.833,1)">7</text>
</g>
</svg></body></html>
